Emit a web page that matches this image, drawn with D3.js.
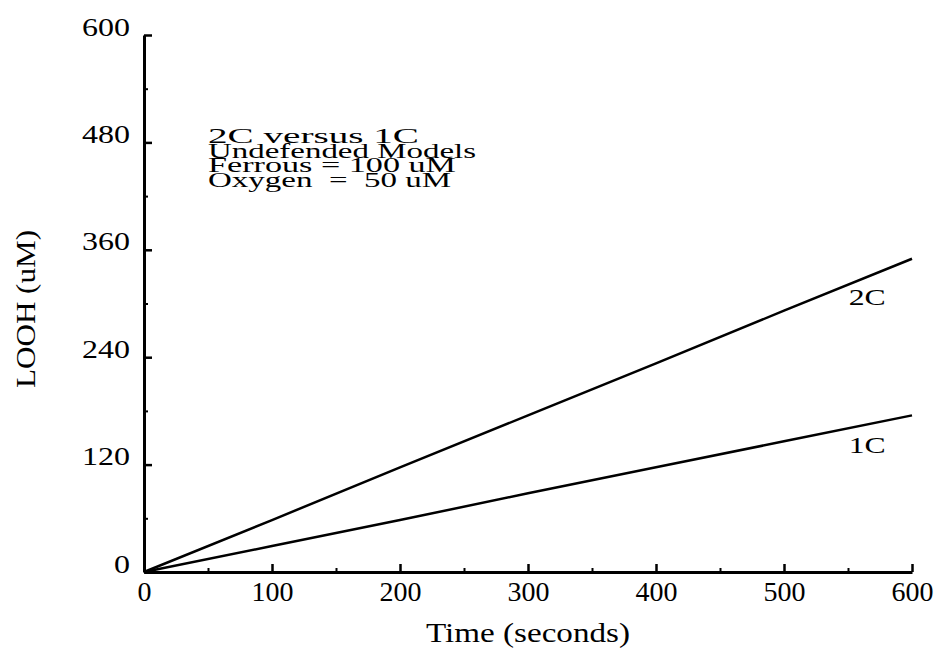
<!DOCTYPE html>
<html>
<head>
<meta charset="utf-8">
<script src="https://cdn.jsdelivr.net/npm/d3@7"></script>
<style>
  body { margin: 0; background: #fff; }
  svg { display: block; }
  text { font-family: 'Liberation Serif', 'Times New Roman', serif; fill: #000; }
</style>
</head>
<body>
<svg class="chart"></svg>
<script>
// data
const time = [0, 100, 200, 300, 400, 500, 600];
const looh2C = [0, 58, 117, 175, 233, 292, 350];
const looh1C = [0, 29, 58, 88, 117, 146, 175];
const xTicks = [0, 100, 200, 300, 400, 500, 600];
const yTicks = [0, 120, 240, 360, 480, 600];
const xMinor = [50, 150, 250, 350, 450, 550];
const yMinor = [60, 180, 300, 420, 540];
const notes = ['2C versus 1C', 'Undefended Models', 'Ferrous = 100 uM', 'Oxygen  =  50 uM'];

const WIDTH = 941,
  HEIGHT = 651;
const margin = { top: 35, right: 29, bottom: 79, left: 144 },
  w = WIDTH - margin.left - margin.right,
  h = HEIGHT - margin.top - margin.bottom;

const svg = d3.select('.chart').attr('width', WIDTH).attr('height', HEIGHT);
const g = svg
  .append('g')
  .attr('transform', `translate(${margin.left}, ${margin.top})`);

const x = d3.scaleLinear().domain([0, 600]).range([0, w]);
const y = d3.scaleLinear().domain([0, 600]).range([h, 0]);

// minor ticks first, then main axes on top
g.append('g')
  .attr('transform', `translate(0, ${h})`)
  .call(d3.axisBottom(x).tickValues(xMinor).tickSize(-4).tickFormat(''))
  .call((a) => a.select('.domain').remove())
  .selectAll('line')
  .attr('stroke-width', 2);

g.append('g')
  .call(d3.axisLeft(y).tickValues(yMinor).tickSize(-4).tickFormat(''))
  .call((a) => a.select('.domain').remove())
  .selectAll('line')
  .attr('stroke-width', 2);

const xAxis = g
  .append('g')
  .attr('transform', `translate(0, ${h})`)
  .call(d3.axisBottom(x).tickValues(xTicks).tickSize(-8).tickSizeOuter(0).tickPadding(29));
xAxis.select('.domain').attr('stroke-width', 3);
xAxis.selectAll('line').attr('stroke-width', 2.5);
xAxis
  .selectAll('text')
  .attr('dy', 0)
  .style('font-size', '28px')
  .style('font-family', "'Liberation Serif', serif");

const yAxis = g
  .append('g')
  .call(d3.axisLeft(y).tickValues(yTicks).tickSize(-8).tickSizeOuter(0).tickPadding(14));
yAxis.select('.domain').attr('stroke-width', 3);
yAxis.selectAll('line').attr('stroke-width', 2.5);
yAxis
  .selectAll('text')
  .attr('dy', 0)
  .attr('textLength', (d) => String(d).length * 16)
  .attr('lengthAdjust', 'spacingAndGlyphs')
  .style('font-size', '26px')
  .style('font-family', "'Liberation Serif', serif");

// lines
const line = d3
  .line()
  .x((d) => x(d[0]))
  .y((d) => y(d[1]));

const series = [
  { name: '2C', values: d3.zip(time, looh2C) },
  { name: '1C', values: d3.zip(time, looh1C) }
];

g.selectAll('.series')
  .data(series)
  .join('path')
  .attr('class', 'series')
  .attr('d', (d) => line(d.values))
  .attr('fill', 'none')
  .attr('stroke', '#000')
  .attr('stroke-width', 2.5);

// series labels near the right end
g.selectAll('.slabel')
  .data(series)
  .join('text')
  .attr('class', 'slabel')
  .attr('x', x(565))
  .attr('y', (d) => y(d.values[d.values.length - 1][1]) + (d.name === '2C' ? 46 : 38))
  .attr('text-anchor', 'middle')
  .attr('textLength', 37)
  .attr('lengthAdjust', 'spacingAndGlyphs')
  .style('font-size', '24px')
  .text((d) => d.name);

// annotation block
const noteWidths = [211, 268, 248, 243];
svg
  .append('g')
  .selectAll('text')
  .data(notes)
  .join('text')
  .attr('x', 208)
  .attr('y', (d, i) => 143 + i * 14.6)
  .attr('textLength', (d, i) => noteWidths[i])
  .attr('lengthAdjust', 'spacingAndGlyphs')
  .style('font-size', '21px')
  .style('white-space', 'pre')
  .text((d) => d);

// axis titles
svg
  .append('text')
  .attr('x', margin.left + w / 2)
  .attr('y', 642)
  .attr('text-anchor', 'middle')
  .attr('textLength', 204)
  .attr('lengthAdjust', 'spacingAndGlyphs')
  .style('font-size', '27px')
  .text('Time (seconds)');

svg
  .append('text')
  .attr('transform', 'translate(35, 309) rotate(-90)')
  .attr('text-anchor', 'middle')
  .attr('textLength', 158)
  .attr('lengthAdjust', 'spacingAndGlyphs')
  .style('font-size', '27px')
  .text('LOOH (uM)');
</script>
</body>
</html>
